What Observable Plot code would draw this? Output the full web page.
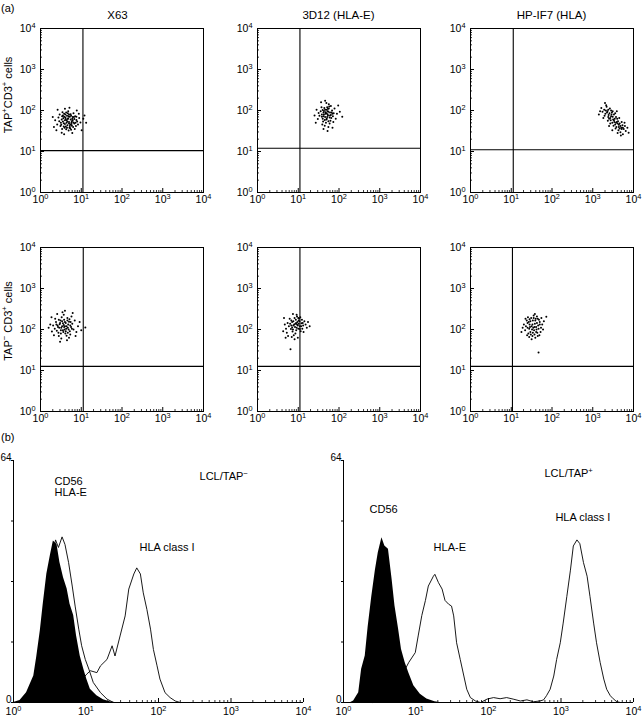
<!DOCTYPE html>
<html><head><meta charset="utf-8">
<script src="https://cdn.jsdelivr.net/npm/d3@7"></script>
<script src="https://cdn.jsdelivr.net/npm/@observablehq/plot@0.6"></script>
<style>
body{margin:0;background:#fff;}
#root{position:relative;width:643px;height:721px;font-family:"Liberation Sans",Arial,sans-serif;color:#000;overflow:hidden;background:#fff}
.lbl{position:absolute;font-size:11px;white-space:nowrap;line-height:1}
.rot{position:absolute;font-size:11px;white-space:nowrap;line-height:1;transform:translate(-50%,-50%) rotate(-90deg)}
sup{font-size:70%;vertical-align:super;line-height:0}
svg{position:absolute;overflow:visible}
</style></head><body><div id="root"></div>
<script>
// ---------- DATA ----------
const panelTitles = ["X63", "3D12 (HLA-E)", "HP-IF7 (HLA)"];
const rowLabels = ["TAP<sup>+</sup>CD3<sup>+</sup> cells", "TAP<sup>\u2212</sup> CD3<sup>+</sup> cells"];
const decadeTicks = [1, 10, 100, 1000, 10000];
const decadeLabels = ["10^0", "10^1", "10^2", "10^3", "10^4"];
const countTicks = [0, 16, 32, 48, 64];
const countLabelTicks = [0, 64];
const countLabels = ["0", "64"];

// scatter events, [log10 x, log10 y]
const tapPosX63 = [[0.52,1.78],[0.61,1.83],[0.70,1.72],[0.78,1.80],[0.66,1.64],[0.57,1.69],[0.74,1.91],[0.83,1.68],[0.49,1.62],[0.63,1.95],
[0.71,1.58],[0.88,1.77],[0.55,1.88],[0.80,1.60],[0.67,1.79],[0.59,1.58],[0.76,1.71],[0.46,1.74],[0.85,1.86],[0.64,1.70],
[0.72,1.85],[0.53,1.55],[0.92,1.66],[0.60,1.76],[0.81,1.93],[0.69,1.51],[0.44,1.83],[0.77,1.63],[0.58,1.92],[0.90,1.73],
[0.65,1.87],[0.73,1.66],[0.50,1.70],[0.84,1.55],[0.62,1.61],[0.79,1.76],[0.56,1.81],[0.68,1.98],[0.95,1.82],[0.41,1.66],
[0.75,1.53],[0.87,1.62],[0.54,1.96],[0.70,1.90],[0.63,1.54],[0.82,1.84],[0.47,1.90],[0.98,1.71],[0.66,1.73],[0.74,1.78],
[0.36,1.76],[1.05,1.80],[0.60,2.04],[0.78,1.45],[0.33,1.60],[1.12,1.70],[0.52,1.46],[0.89,2.00],[0.42,2.02],[1.01,1.52],
[0.71,2.07],[0.58,1.42],[0.94,1.92],[0.39,1.52],[1.08,1.88],[0.30,1.84],
[0.60,1.67],[0.69,1.86],[0.77,1.74],[0.55,1.73],[0.65,1.58],[0.83,1.79],[0.72,1.62],[0.58,1.85],[0.81,1.71],[0.67,1.93],
[0.51,1.65],[0.75,1.87],[0.62,1.79],[0.86,1.70],[0.70,1.68],[0.57,1.61],[0.79,1.84],[0.64,1.76],[0.73,1.57],[0.53,1.86],
[0.68,1.81],[0.88,1.85],[0.61,1.90],[0.76,1.67]];
const tapPos3D12 = [[1.62,1.95],[1.70,2.02],[1.78,1.88],[1.66,1.84],[1.74,1.97],[1.58,1.90],[1.83,2.00],[1.69,1.78],[1.76,2.10],[1.64,2.06],
[1.81,1.82],[1.55,1.98],[1.72,1.91],[1.87,1.93],[1.60,1.80],[1.68,1.70],[1.79,1.75],[1.52,1.87],[1.75,2.15],[1.63,1.99],
[1.85,1.86],[1.71,1.84],[1.57,2.08],[1.67,1.92],[1.89,2.05],[1.77,1.68],[1.61,1.73],[1.73,2.04],[1.50,1.94],[1.82,1.95],
[1.65,1.63],[1.92,1.80],[1.69,2.18],[1.48,1.79],[1.80,2.11],[1.59,1.66],[1.95,1.92],[1.74,1.60],[1.45,2.02],[1.86,1.72],
[1.40,1.88],[2.02,1.97],[1.66,2.24],[1.72,1.50],[1.98,2.12],[1.43,1.70],[2.08,1.85],[1.56,2.20],[1.84,1.58],[1.62,1.55],
[1.67,1.96],[1.73,1.88],[1.63,1.90],[1.78,1.95],[1.70,1.80],[1.75,2.05],[1.60,2.01],[1.69,1.93],[1.80,1.89],[1.65,1.77],
[1.72,1.98],[1.84,1.92],[1.58,1.85],[1.71,2.08],[1.77,1.83],[1.66,2.02],[1.62,1.86],[1.74,1.74]];
const tapPosHPIF7 = [[3.28,2.02],[3.36,1.98],[3.42,2.05],[3.31,1.92],[3.39,1.89],[3.47,1.95],[3.24,1.97],[3.34,2.09],[3.45,1.86],[3.52,1.90],
[3.40,1.80],[3.50,1.78],[3.57,1.84],[3.48,1.70],[3.55,1.66],[3.62,1.74],[3.58,1.60],[3.66,1.68],[3.70,1.58],[3.63,1.52],
[3.73,1.64],[3.68,1.47],[3.76,1.55],[3.60,1.80],[3.53,1.72],[3.44,1.76],[3.38,1.84],[3.29,1.87],[3.21,2.06],[3.33,2.13],
[3.45,2.00],[3.55,1.93],[3.65,1.82],[3.71,1.72],[3.79,1.62],[3.81,1.50],[3.74,1.42],[3.64,1.60],[3.56,1.56],[3.51,1.63],
[3.43,1.68],[3.37,1.75],[3.26,1.82],[3.18,1.98],[3.59,1.98],[3.85,1.58],[3.69,1.39],[3.78,1.70],[3.48,1.52],[3.61,1.45],
[3.30,2.18],[3.15,1.90],[3.88,1.46],[3.40,1.62],
[3.35,1.95],[3.41,1.93],[3.49,1.85],[3.54,1.80],[3.59,1.72],[3.64,1.65],[3.68,1.62],[3.71,1.55],[3.32,2.00],[3.46,1.90],
[3.52,1.76],[3.61,1.68],[3.66,1.56],[3.38,2.02],[3.57,1.70],[3.74,1.58],[3.43,1.82],[3.49,1.98]];
const tapNegX63 = [[0.42,2.10],[0.55,2.15],[0.63,2.02],[0.50,1.98],[0.68,2.12],[0.58,2.24],[0.46,2.04],[0.72,1.96],[0.61,1.90],[0.38,2.18],
[0.53,2.08],[0.66,2.28],[0.75,2.06],[0.44,1.92],[0.59,2.00],[0.70,2.19],[0.49,2.22],[0.64,1.85],[0.35,2.02],[0.78,2.14],
[0.56,1.94],[0.47,2.13],[0.60,2.08],[0.81,2.00],[0.40,1.97],[0.67,2.04],[0.52,2.30],[0.73,1.88],[0.31,2.10],[0.62,2.16],
[0.84,2.22],[0.45,1.84],[0.57,2.36],[0.70,1.80],[0.28,1.95],[0.88,1.94],[0.36,2.26],[0.51,1.78],[0.76,2.32],[0.24,2.12],
[0.92,2.08],[0.41,2.38],[0.65,1.74],[0.33,1.86],[0.86,1.84],[0.54,2.42],[0.20,2.04],[0.96,2.18],[0.48,1.70],[0.79,2.40],
[0.27,2.30],[1.00,1.98],[1.10,2.05],[0.60,2.46],
[0.57,2.11],[0.64,2.08],[0.51,2.04],[0.69,2.00],[0.60,2.18],[0.48,2.16],[0.73,2.10],[0.55,1.98],[0.66,2.22],[0.43,2.06],
[0.62,1.96],[0.71,2.25],[0.53,2.20],[0.77,2.02],[0.58,2.06],[0.45,2.24],[0.67,1.92],[0.74,2.18],[0.39,2.12],[0.50,1.90]];
const tapNeg3D12 = [[0.90,2.12],[0.98,2.18],[1.04,2.08],[0.85,2.05],[0.94,2.24],[1.08,2.15],[0.80,2.14],[1.00,2.02],[0.88,2.20],[1.12,2.10],
[0.95,1.98],[0.83,2.22],[1.02,2.27],[0.77,2.08],[1.06,1.96],[0.92,2.06],[1.15,2.20],[0.86,1.95],[0.97,2.32],[0.74,2.16],
[1.10,2.02],[0.82,2.01],[1.01,2.14],[0.93,1.90],[1.18,2.12],[0.79,2.26],[0.70,2.02],[1.05,2.30],[0.89,1.86],[1.13,1.94],
[0.72,1.92],[0.96,2.36],[1.21,2.04],[0.84,1.82],[0.67,2.12],[1.09,2.24],[0.75,1.84],[1.24,2.18],[0.91,1.76],[0.65,2.28],
[0.81,1.52],[0.69,1.80],[1.28,2.08],[0.99,1.80],[0.87,2.38],[0.63,1.96],
[0.93,2.14],[0.99,2.10],[1.03,2.20],[0.88,2.10],[0.96,2.04],[1.07,2.08],[0.91,2.28],[0.85,2.18],[1.01,2.22],[0.95,2.16],
[1.11,2.16],[0.87,2.00],[0.97,2.12],[1.04,2.01],[0.83,2.10],[1.00,2.28]];
const tapNegHPIF7 = [[1.50,2.08],[1.58,2.14],[1.44,2.02],[1.62,2.00],[1.53,2.22],[1.40,2.16],[1.66,2.10],[1.47,1.94],[1.56,1.98],[1.70,2.18],
[1.36,2.08],[1.60,2.26],[1.49,2.28],[1.64,1.92],[1.42,1.90],[1.54,2.04],[1.73,2.04],[1.38,2.22],[1.57,1.88],[1.68,2.24],
[1.45,2.12],[1.52,1.84],[1.34,1.98],[1.76,2.12],[1.61,2.06],[1.47,2.20],[1.65,1.84],[1.41,2.30],[1.55,2.34],[1.72,1.94],
[1.31,2.12],[1.59,1.80],[1.44,1.82],[1.78,2.00],[1.35,2.26],[1.63,2.32],[1.50,1.76],[1.80,2.20],[1.28,2.04],[1.69,1.86],
[1.86,2.31],[1.67,1.44],[1.39,1.86],[1.74,2.28],[1.25,1.94],[1.58,2.38],
[1.52,2.12],[1.57,2.06],[1.46,2.06],[1.63,2.16],[1.51,2.00],[1.59,2.22],[1.43,2.18],[1.67,2.02],[1.55,2.28],[1.48,1.88],
[1.61,1.94],[1.40,2.04],[1.70,2.12],[1.53,1.92],[1.65,2.26],[1.45,2.25]];
const gateX = [11, 11, 11.2, 11.2, 11, 10.7];
const gateY = [10.5, 12, 11, 12.6, 12.6, 12.6];

// histograms, [log10 fluorescence, events]
const cd56Neg = [[0,0],[0.09,0.5],[0.18,2.6],[0.28,7],[0.32,12],[0.37,19],[0.41,26],[0.46,34],[0.51,39],[0.55,42.7],[0.60,41.8],
[0.64,37],[0.69,33],[0.74,30],[0.78,26],[0.83,23],[0.87,17.6],[0.92,12.3],[0.97,8.8],[1.01,6.2],[1.06,3.5],[1.15,1.8],[1.24,0.7],[1.33,0.2],[1.40,0]];
const hlaENeg = [[0.09,0],[0.18,1.5],[0.28,5],[0.37,15],[0.46,30],[0.53,38],[0.58,43],[0.62,41],[0.67,43.8],[0.71,41.8],[0.76,37],
[0.81,30.8],[0.85,25.5],[0.90,19.4],[0.94,15],[0.99,11.4],[1.04,8.8],[1.10,5.3],[1.20,2.6],[1.29,0.9],[1.38,0]];
const hlaINeg = [[0.74,0.5],[0.83,3],[0.92,5.5],[1.01,7.5],[1.06,8.4],[1.15,7.9],[1.20,9.7],[1.29,11.4],[1.36,15],[1.40,12.3],[1.47,17.6],
[1.54,22.9],[1.59,30],[1.66,34],[1.70,35.6],[1.75,34],[1.79,29],[1.84,24.6],[1.89,19.4],[1.93,14],[1.98,9.7],[2.02,6.2],[2.09,2.6],[2.16,1.3],[2.23,0.4],[2.30,0]];
const cd56Pos = [[0.10,0],[0.14,0.4],[0.21,2.6],[0.25,8.8],[0.30,12.3],[0.34,20],[0.39,28],[0.44,35],[0.48,39.6],[0.53,43.6],[0.57,41.4],
[0.62,40.5],[0.67,32.6],[0.71,25.5],[0.76,19.4],[0.80,14],[0.85,10.6],[0.90,7.9],[0.97,4.4],[1.06,2.2],[1.15,0.9],[1.26,0.2],[1.33,0]];
const hlaEPos = [[0.41,0],[0.51,0.9],[0.64,2.6],[0.78,6.2],[0.90,10.6],[0.99,13.2],[1.03,17.6],[1.08,23],[1.13,27],[1.17,30.8],[1.24,33.4],
[1.26,33.9],[1.31,31.7],[1.36,30],[1.40,27],[1.45,26],[1.49,25.5],[1.52,22.9],[1.56,15.8],[1.61,11.4],[1.66,7],[1.70,3.5],[1.75,1.3],
[1.82,0.4],[1.89,0],[1.98,0.9],[2.07,1.3],[2.16,1],[2.25,1.3],[2.34,0.9],[2.44,0.4],[2.53,0.7],[2.62,0.2],[2.71,0.4]];
const hlaIPos = [[2.71,0.4],[2.76,0.7],[2.80,1.8],[2.85,3.5],[2.90,7],[2.94,11.4],[2.99,15.8],[3.03,21],[3.08,28],[3.13,35],[3.17,41.4],
[3.22,43],[3.26,42],[3.31,37],[3.36,33.4],[3.40,28],[3.45,21],[3.49,15.8],[3.54,10.6],[3.59,6.2],[3.63,3.5],[3.68,1.8],[3.72,1],[3.77,0.2],[3.82,0]];
const annotNeg = [
  {text:"CD56", x:3.68, y:58.4}, {text:"HLA-E", x:3.68, y:55.5},
  {text:"LCL/TAP^\u2212", x:368, y:59.8}, {text:"HLA class I", x:54.7, y:41}];
const annotPos = [
  {text:"CD56", x:2.29, y:51}, {text:"HLA-E", x:17.5, y:41},
  {text:"LCL/TAP^+", x:592, y:60.7}, {text:"HLA class I", x:837, y:49}];

// ---------- LAYOUT ----------
const root = document.getElementById("root");
const FONT = "'Liberation Sans', Arial, sans-serif";
function supify(svg){
  d3.select(svg).selectAll("text, tspan").each(function(){
    if (this.children.length) return;
    const s = this.textContent;
    if (!s.includes("^")) return;
    const parts = s.split(/\^(\S)/);
    const sel = d3.select(this); sel.text(null);
    parts.forEach((p,i)=>{
      if (!p) return;
      if (i % 2 === 1) sel.append("tspan").attr("baseline-shift","super").attr("font-size","70%").text(p);
      else sel.append("tspan").text(p);
    });
  });
}
function place(node, left, top){ node.style.left = left+"px"; node.style.top = top+"px"; root.appendChild(node); }
function html(cls, content, left, top, extra){
  const d = document.createElement("div"); d.className = cls; d.innerHTML = content;
  d.style.left = left+"px"; d.style.top = top+"px"; if (extra) Object.assign(d.style, extra);
  root.appendChild(d); return d;
}
const minorTicks = [2,3,4,5,6,7,8,9].flatMap(m => [1,10,100,1000].map(p => m*p));

const FW = 163, FH = 164;
const colLeft = [40, 257, 470], rowTop = [28, 247];
const panels = [tapPosX63, tapPos3D12, tapPosHPIF7, tapNegX63, tapNeg3D12, tapNegHPIF7];

panels.forEach((pts, i) => {
  const r = Math.floor(i/3), c = i % 3;
  const data = pts.map(([a,b]) => ({x: 10**a, y: 10**b}));
  const svg = Plot.plot({
    width: 40+FW+10, height: 8+FH+18, marginLeft: 40, marginRight: 10, marginTop: 8, marginBottom: 18,
    style: {fontFamily: FONT, fontSize: "10px", background: "transparent", overflow: "visible", color: "#000"},
    x: {type: "log", domain: [1, 1e4], axis: null},
    y: {type: "log", domain: [1, 1e4], axis: null},
    marks: [
      Plot.ruleX([gateX[i]], {stroke: "#000", strokeWidth: 1.1}),
      Plot.ruleY([gateY[i]], {stroke: "#000", strokeWidth: 1.1}),
      Plot.tickX(minorTicks, {x: d => d, insetTop: FH-2, stroke: "#000", strokeWidth: 0.8}),
      Plot.tickX(decadeTicks, {x: d => d, insetTop: FH-4, stroke: "#000"}),
      Plot.tickY(minorTicks, {y: d => d, insetRight: FW-2, stroke: "#000", strokeWidth: 0.8}),
      Plot.tickY(decadeTicks, {y: d => d, insetRight: FW-4, stroke: "#000"}),
      Plot.text(decadeTicks, {x: d => d, frameAnchor: "bottom", dy: 10, text: (d,j) => decadeLabels[j], fontSize: 10.5, fill: "#000"}),
      Plot.text(decadeTicks, {y: d => d, frameAnchor: "left", dx: -5, textAnchor: "end", text: (d,j) => decadeLabels[j], fontSize: 10.5, fill: "#000"}),
      Plot.dot(data, {x: "x", y: "y", r: 1, fill: "#000", stroke: null}),
      Plot.frame({stroke: "#000", strokeWidth: 1})
    ]
  });
  supify(svg);
  place(svg, colLeft[c]-40, rowTop[r]-8);
});

panelTitles.forEach((t, c) => {
  html("lbl", t, colLeft[c] + FW/2 - (c === 0 ? 4 : 0), 10, {transform: "translateX(-50%)", fontSize: "11.5px"});
});
html("rot", rowLabels[0], 8, 95);
html("rot", rowLabels[1], 8, 321);
html("lbl", "(a)", 1, 3);
html("lbl", "(b)", 1, 432);

// ---------- HISTOGRAMS ----------
function histogram(fill, outlines, annots, frameLeft){
  const HW = 290, HH = 242;
  const toXY = s => s.map(([a,b]) => ({x: 10**a, y: b}));
  const svg = Plot.plot({
    width: 30+HW+20, height: 21+HH+18, marginLeft: 30, marginRight: 20, marginTop: 21, marginBottom: 18,
    style: {fontFamily: FONT, fontSize: "10px", background: "transparent", overflow: "visible", color: "#000"},
    x: {type: "log", domain: [1, 1e4], axis: null},
    y: {domain: [0, 64], axis: null},
    marks: [
      Plot.areaY(toXY(fill), {x: "x", y: "y", fill: "#000"}),
      ...outlines.map(s => Plot.lineY(toXY(s), {x: "x", y: "y", stroke: "#000", strokeWidth: 0.9})),
      Plot.ruleY([0], {stroke: "#000"}),
      Plot.ruleX([1], {stroke: "#000"}),
      Plot.tickX(minorTicks, {x: d => d, insetTop: HH-2, stroke: "#000", strokeWidth: 0.8}),
      Plot.tickX(decadeTicks, {x: d => d, insetTop: HH-4, stroke: "#000"}),
      Plot.axisY({ticks: countTicks, tickSize: 2, tickFormat: () => "", label: null}),
      Plot.text(countLabelTicks, {y: d => d, frameAnchor: "left", dx: -2, dy: -3, textAnchor: "end", text: (d,j) => countLabels[j], fontSize: 10, fill: "#000"}),
      Plot.text(decadeTicks, {x: d => d, frameAnchor: "bottom", dy: 12, text: (d,j) => decadeLabels[j], fontSize: 10.5, fill: "#000"}),
      Plot.text(annots, {x: "x", y: "y", text: "text", textAnchor: "start", fontSize: 11, fill: "#000"})
    ]
  });
  supify(svg);
  place(svg, frameLeft-30, 439);
}
histogram(cd56Neg, [hlaENeg, hlaINeg], annotNeg, 13);
histogram(cd56Pos, [hlaEPos, hlaIPos], annotPos, 343);
</script>
</body></html>
